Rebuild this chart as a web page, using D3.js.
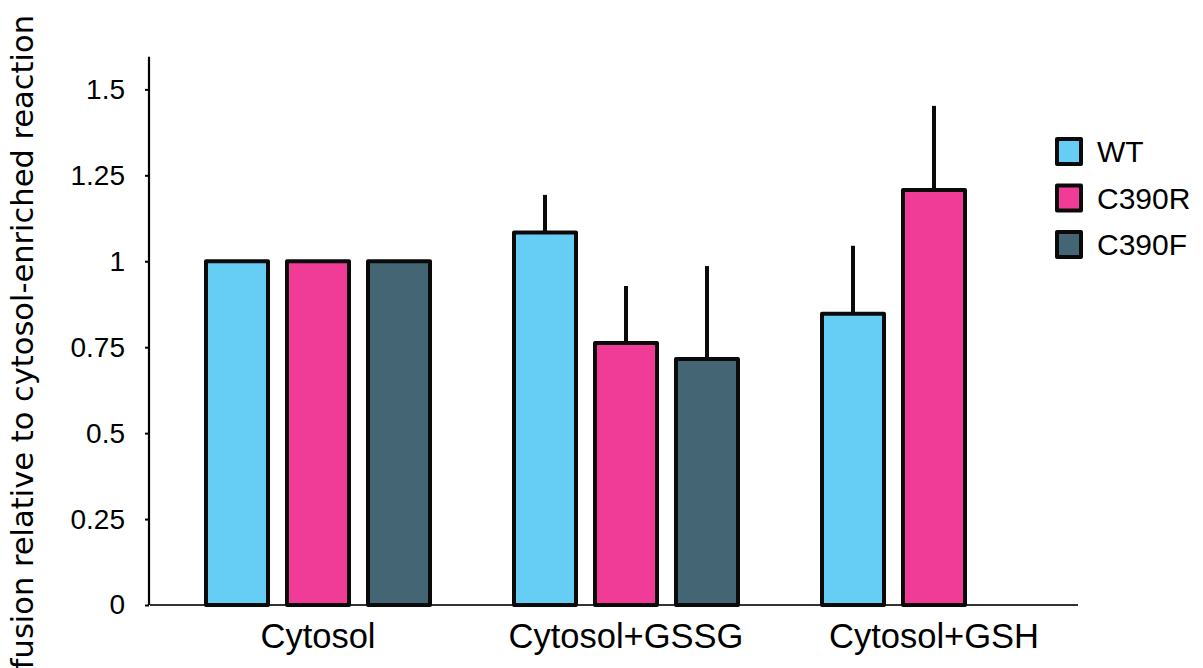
<!DOCTYPE html>
<html>
<head>
<meta charset="utf-8">
<script src="https://cdn.jsdelivr.net/npm/d3@7"></script>
<style>
  html, body { margin: 0; padding: 0; background: #fff; }
  svg { display: block; }
</style>
</head>
<body>
<svg id="chart" width="1203" height="668"></svg>
<script>
// Conditions on the x axis and strains in each group
const categories = ["Cytosol", "Cytosol+GSSG", "Cytosol+GSH"];
const series = ["WT", "C390R", "C390F"];
const colors = ["#66CDF5", "#F03C96", "#446574"];

// Mean fusion per strain, one array per strain (null = not measured)
const wtValues    = [1.0, 1.084, 0.847];
const c390rValues = [1.0, 0.762, 1.207];
const c390fValues = [1.0, 0.716, null];

// Upper error (absolute top of each error bar; null = no bar)
const wtErrTop    = [null, 1.193, 1.045];
const c390rErrTop = [null, 0.928, 1.452];
const c390fErrTop = [null, 0.986, null];

const yTicks = [0, 0.25, 0.5, 0.75, 1, 1.25, 1.5];
const yTickLabels = ["0", "0.25", "0.5", "0.75", "1", "1.25", "1.5"];
const yTitle = "fusion relative to cytosol-enriched reaction";

const valuesBySeries = [wtValues, c390rValues, c390fValues];
const errBySeries = [wtErrTop, c390rErrTop, c390fErrTop];

const svg = d3.select("#chart");

const y = d3.scaleLinear().domain([0, 1.6]).range([605, 55]);
const x0 = d3.scaleBand().domain(categories).range([164, 1088]).padding(0);
const x1 = d3.scalePoint().domain(series).range([-81, 81]);
const barW = 62;

const rows = [];
categories.forEach((c, i) => {
  series.forEach((s, j) => {
    const v = valuesBySeries[j][i];
    if (v != null) rows.push({ cat: c, ser: s, v: v, err: errBySeries[j][i], color: colors[j] });
  });
});
const cx = d => x0(d.cat) + x0.bandwidth() / 2 + x1(d.ser);

// Axes lines
svg.append("line")
  .attr("x1", 150).attr("x2", 1078)
  .attr("y1", y(0)).attr("y2", y(0))
  .attr("stroke", "#333").attr("stroke-width", 2);

const yAxis = d3.axisLeft(y)
  .tickValues(yTicks)
  .tickFormat((d, i) => yTickLabels[i])
  .tickSize(4)
  .tickSizeOuter(0);
const gy = svg.append("g").attr("transform", "translate(149,0)").call(yAxis);
gy.select(".domain").attr("stroke", "#000").attr("stroke-width", 2.2)
  .attr("d", `M0,${y(1.595)}V${y(0)}`);
gy.selectAll(".tick line").attr("stroke", "#000").attr("stroke-width", 2);
gy.selectAll(".tick text")
  .attr("x", -24)
  .attr("fill", "#000")
  .style("font-family", "'Liberation Sans', Arial, sans-serif")
  .style("font-size", "28px");

// Error bars (drawn beneath bars)
svg.append("g").selectAll("line")
  .data(rows.filter(d => d.err != null))
  .join("line")
  .attr("x1", cx).attr("x2", cx)
  .attr("y1", d => y(d.v)).attr("y2", d => y(d.err))
  .attr("stroke", "#0a0a0a").attr("stroke-width", 4);

// Bars
svg.append("g").selectAll("rect")
  .data(rows)
  .join("rect")
  .attr("x", d => cx(d) - barW / 2)
  .attr("width", barW)
  .attr("y", d => y(d.v))
  .attr("height", d => y(0) - y(d.v))
  .attr("fill", d => d.color)
  .attr("stroke", "#0a0a0a")
  .attr("stroke-width", 4)
  .attr("stroke-linejoin", "round");

// Category labels
svg.append("g").selectAll("text")
  .data(categories)
  .join("text")
  .attr("x", d => x0(d) + x0.bandwidth() / 2)
  .attr("y", 648)
  .attr("text-anchor", "middle")
  .style("font-family", "'Liberation Sans', Arial, sans-serif")
  .style("font-size", "34.5px")
  .attr("fill", "#000")
  .text(d => d);

// Y axis title
svg.append("text")
  .attr("transform", "translate(33,15) rotate(-90)")
  .attr("text-anchor", "end")
  .style("font-family", "'DejaVu Sans', Verdana, sans-serif")
  .style("font-size", "30.5px")
  .attr("fill", "#000")
  .text(yTitle);

// Legend
const legend = svg.append("g").selectAll("g")
  .data(series)
  .join("g")
  .attr("transform", (d, i) => `translate(1057,${139 + i * 46.5})`);
legend.append("rect")
  .attr("width", 24).attr("height", 25)
  .attr("fill", (d, i) => colors[i])
  .attr("stroke", "#0a0a0a").attr("stroke-width", 4)
  .attr("stroke-linejoin", "round");
legend.append("text")
  .attr("x", 40).attr("y", 12.5)
  .attr("dy", "0.36em")
  .style("font-family", "'Liberation Sans', Arial, sans-serif")
  .style("font-size", "30px")
  .attr("fill", "#000")
  .text(d => d);
</script>
</body>
</html>
